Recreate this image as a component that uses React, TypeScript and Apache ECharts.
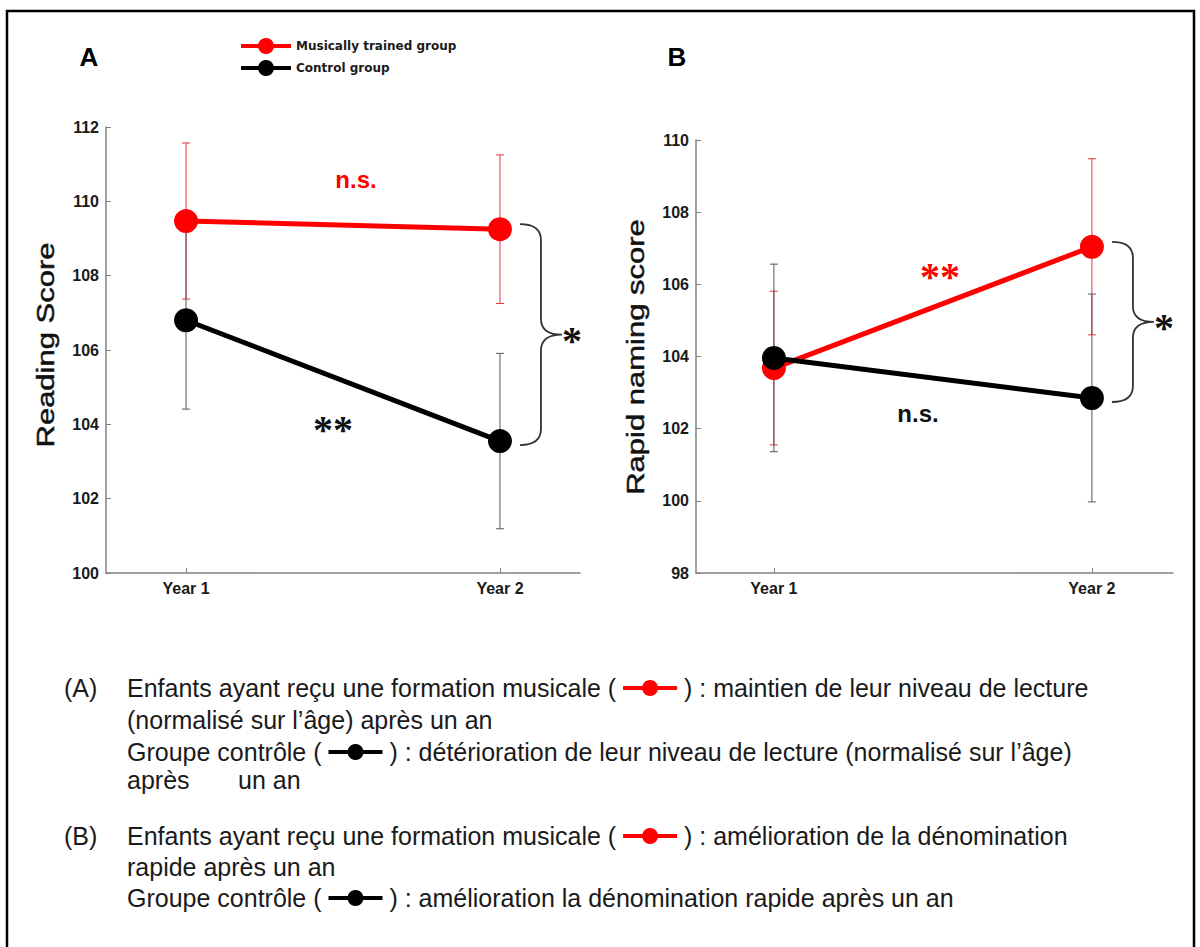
import React, { useEffect, useRef } from "react";
import * as echarts from "echarts";

const FONT = "'Liberation Sans', Arial, sans-serif";
const SERIF = "'Liberation Serif', 'Times New Roman', serif";
const LEGEND_FONT = "'DejaVu Sans', sans-serif";

const groupNames = ["Musically trained group", "Control group"];
const yearX = [1, 2];
const yearLabels = ["Year 1", "Year 2"];

const readingMusical = [109.47, 109.25];
const readingMusicalErr = [2.1, 2.0];
const readingControl = [106.8, 103.55];
const readingControlErr = [2.39, 2.36];

const namingMusical = [103.68, 107.04];
const namingMusicalErr = [2.13, 2.44];
const namingControl = [103.96, 102.85];
const namingControlErr = [2.6, 2.88];

const readingAxis = [100, 112, 2];
const namingAxis = [98, 110, 2];

const RED = "#ff0000";
const BLACK = "#000000";

function errorRender(color: string) {
  return (params: any, api: any) => {
    const x = api.value(0);
    const m = api.value(1);
    const e = api.value(2);
    const top = api.coord([x, m + e]);
    const bot = api.coord([x, m - e]);
    const hw = 4;
    const st = { stroke: color, lineWidth: 1 };
    return {
      type: "group",
      children: [
        { type: "line", shape: { x1: top[0], y1: top[1], x2: bot[0], y2: bot[1] }, style: st },
        { type: "line", shape: { x1: top[0] - hw, y1: top[1], x2: top[0] + hw, y2: top[1] }, style: st },
        { type: "line", shape: { x1: bot[0] - hw, y1: bot[1], x2: bot[0] + hw, y2: bot[1] }, style: st },
      ],
    };
  };
}

function braceRender(params: any, api: any) {
  const top = api.coord([api.value(0), api.value(1)]);
  const bot = api.coord([api.value(0), api.value(2)]);
  const x0 = top[0] + 20;
  const y0 = top[1] - 5;
  const y1 = bot[1] + 4;
  const ym = (y0 + y1) / 2;
  const xv = x0 + 21;
  const xt = x0 + 42;
  const r = 16;
  const d = `M${x0},${y0} Q${xv},${y0} ${xv},${y0 + r} L${xv},${ym - r} Q${xv},${ym} ${xt},${ym} Q${xv},${ym} ${xv},${ym + r} L${xv},${y1 - r} Q${xv},${y1} ${x0},${y1}`;
  return {
    type: "group",
    children: [
      { type: "path", shape: { pathData: d }, style: { fill: "none", stroke: "#333", lineWidth: 1.8 } },
      {
        type: "text",
        x: xt + 10,
        y: ym + 6,
        style: { text: "*", fontSize: 40, fontWeight: "bold", fontFamily: SERIF, fill: "#111", align: "center", verticalAlign: "middle" },
      },
    ],
  };
}

function xAxisFor(gridIndex: number, min: number, max: number) {
  return {
    type: "value",
    gridIndex,
    min,
    max,
    axisLine: { show: true, lineStyle: { color: "#808080", width: 1.5 } },
    axisTick: { show: true, inside: true, length: 5, customValues: yearX, lineStyle: { color: "#808080", width: 1 } },
    axisLabel: {
      customValues: yearX,
      formatter: (v: number) => yearLabels[yearX.indexOf(v)] ?? "",
      color: "#1a1a1a",
      fontSize: 16,
      fontWeight: "bold",
      fontFamily: FONT,
      margin: 7,
    },
    splitLine: { show: false },
  };
}

function yAxisFor(gridIndex: number, range: number[]) {
  return {
    type: "value",
    gridIndex,
    min: range[0],
    max: range[1],
    interval: range[2],
    axisLine: { show: true, lineStyle: { color: "#808080", width: 1.5 } },
    axisTick: { show: true, inside: true, length: 5, lineStyle: { color: "#808080", width: 1 } },
    axisLabel: { color: "#1a1a1a", fontSize: 16, fontWeight: "bold", fontFamily: FONT, margin: 7 },
    splitLine: { show: false },
  };
}

function panelSeries(idx: number, mus: number[], musErr: number[], ctl: number[], ctlErr: number[]) {
  const common = { xAxisIndex: idx, yAxisIndex: idx };
  return [
    {
      ...common,
      type: "custom",
      name: groupNames[0] + " SEM",
      renderItem: errorRender("#e8333a"),
      data: yearX.map((x, i) => [x, mus[i], musErr[i]]),
      encode: { x: 0, y: 1 },
      z: 2,
    },
    {
      ...common,
      type: "custom",
      name: groupNames[1] + " SEM",
      renderItem: errorRender("#555555"),
      data: yearX.map((x, i) => [x, ctl[i], ctlErr[i]]),
      encode: { x: 0, y: 1 },
      z: 2,
    },
    {
      ...common,
      type: "line",
      name: groupNames[0],
      data: yearX.map((x, i) => [x, mus[i]]),
      symbol: "circle",
      symbolSize: 24,
      lineStyle: { color: RED, width: 5 },
      itemStyle: { color: RED, borderWidth: 0 },
      z: 3,
    },
    {
      ...common,
      type: "line",
      name: groupNames[1],
      data: yearX.map((x, i) => [x, ctl[i]]),
      symbol: "circle",
      symbolSize: 24,
      lineStyle: { color: BLACK, width: 5 },
      itemStyle: { color: BLACK, borderWidth: 0 },
      z: 4,
    },
    {
      ...common,
      type: "custom",
      name: "brace",
      renderItem: braceRender,
      data: [[yearX[1], mus[1], ctl[1]]],
      encode: { x: 0, y: [1, 2] },
      clip: false,
      z: 5,
    },
  ];
}

type CapLine = { y: number; label?: string; segs: string[]; icon?: "musical" | "control"; extra?: { text: string; x: number } };

const captionLines: CapLine[] = [
  { y: 688, label: "(A)", segs: ["Enfants ayant reçu une formation musicale (", ") : maintien de leur niveau de lecture"], icon: "musical" },
  { y: 720, segs: ["(normalisé sur l’âge) après un an"] },
  { y: 752, segs: ["Groupe contrôle (", ") : détérioration de leur niveau de lecture (normalisé sur l’âge)"], icon: "control" },
  { y: 780, segs: ["après"], extra: { text: "un an", x: 238 } },
  { y: 836, label: "(B)", segs: ["Enfants ayant reçu une formation musicale (", ") : amélioration de la dénomination"], icon: "musical" },
  { y: 867, segs: ["rapide après un an"] },
  { y: 898, segs: ["Groupe contrôle (", ") : amélioration la dénomination rapide après un an"], icon: "control" },
];

function buildCaption(): any[] {
  const canvas = document.createElement("canvas");
  const ctx = canvas.getContext("2d")!;
  const size = 25;
  ctx.font = `${size}px ${FONT}`;
  const w = (s: string) => ctx.measureText(s).width;
  const textStyle = (t: string) => ({ text: t, fontSize: size, fontFamily: FONT, fill: "#1a1a1a", verticalAlign: "middle" });
  const out: any[] = [];
  const x0 = 127;
  captionLines.forEach((ln) => {
    if (ln.label) out.push({ type: "text", x: 64, y: ln.y, style: textStyle(ln.label) });
    let x = x0;
    out.push({ type: "text", x, y: ln.y, style: textStyle(ln.segs[0]) });
    if (ln.icon && ln.segs[1]) {
      x += w(ln.segs[0]) + w(" ");
      const color = ln.icon === "musical" ? RED : BLACK;
      const iw = 54;
      out.push({ type: "line", shape: { x1: x, y1: ln.y, x2: x + iw, y2: ln.y }, style: { stroke: color, lineWidth: 4 } });
      out.push({ type: "circle", shape: { cx: x + iw / 2, cy: ln.y, r: 8 }, style: { fill: color } });
      x += iw + w(" ");
      out.push({ type: "text", x, y: ln.y, style: textStyle(ln.segs[1]) });
    }
    if (ln.extra) out.push({ type: "text", x: ln.extra.x, y: ln.y, style: textStyle(ln.extra.text) });
  });
  return out;
}

function annot(text: string, x: number, y: number, color: string, size: number, family: string) {
  return {
    type: "text",
    x,
    y,
    style: { text, fontSize: size, fontWeight: "bold", fontFamily: family, fill: color, align: "center", verticalAlign: "middle" },
  };
}

function axisTitle(text: string, x: number, y: number) {
  return {
    type: "text",
    x,
    y,
    rotation: Math.PI / 2,
    scaleY: 0.78,
    style: {
      text,
      fontSize: 31,
      fontFamily: FONT,
      fill: "#111",
      stroke: "#111",
      lineWidth: 0.6,
      align: "center",
      verticalAlign: "middle",
    },
  };
}

export default function App() {
  const ref = useRef<HTMLDivElement>(null);
  useEffect(() => {
    if (!ref.current) return;
    const chart = echarts.init(ref.current, null, { renderer: "svg" });
    const option: any = {
      animation: false,
      backgroundColor: "#ffffff",
      grid: [
        { left: 106, top: 127, width: 474, height: 446, outerBoundsMode: "none" },
        { left: 696, top: 140, width: 477, height: 433, outerBoundsMode: "none" },
      ],
      xAxis: [xAxisFor(0, 0.745, 2.255), xAxisFor(1, 0.755, 2.255)],
      yAxis: [yAxisFor(0, readingAxis), yAxisFor(1, namingAxis)],
      legend: {
        left: 234,
        top: 33,
        orient: "vertical",
        itemWidth: 50,
        itemHeight: 20,
        itemGap: 6,
        selectedMode: false,
        data: groupNames,
        lineStyle: { width: 4 },
        textStyle: { fontFamily: LEGEND_FONT, fontWeight: "bold", fontSize: 12, color: "#1a1a1a" },
      },
      series: [
        ...panelSeries(0, readingMusical, readingMusicalErr, readingControl, readingControlErr),
        ...panelSeries(1, namingMusical, namingMusicalErr, namingControl, namingControlErr),
      ],
      graphic: [
        { type: "rect", shape: { x: 7, y: 11, width: 1187, height: 960 }, style: { fill: "none", stroke: "#000", lineWidth: 2.5 } },
        annot("A", 89, 57, "#000", 26, FONT),
        annot("B", 677, 57, "#000", 26, FONT),
        axisTitle("Reading Score", 46, 345),
        axisTitle("Rapid naming score", 636, 357),
        annot("n.s.", 356, 179, RED, 24, FONT),
        annot("**", 333, 429, "#111", 40, SERIF),
        annot("**", 940, 276, RED, 40, SERIF),
        annot("n.s.", 918, 413, "#111", 24, FONT),
        ...buildCaption(),
      ],
    };
    chart.setOption(option);
    return () => chart.dispose();
  }, []);
  return (
    <div
      ref={ref}
      style={{ position: "fixed", left: 0, top: 0, width: 1200, height: 947, background: "#fff" }}
    />
  );
}
